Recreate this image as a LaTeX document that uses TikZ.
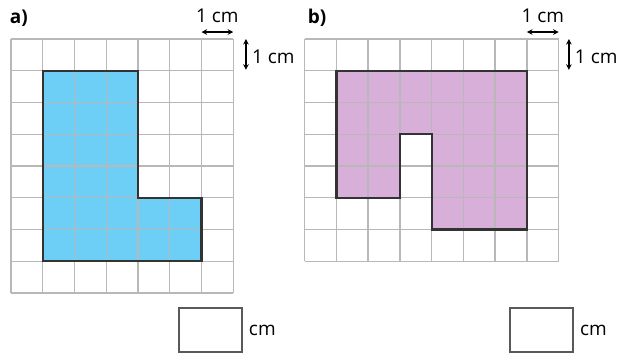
\documentclass[tikz,border=0pt]{standalone}
\usepackage{fontspec}
\setmainfont{Open Sans}
\usetikzlibrary{arrows.meta, positioning}

\definecolor{shapeblue}{HTML}{6DCFF6}
\definecolor{shapepurple}{HTML}{D7AFD8}
\definecolor{gridgray}{HTML}{B8B8B8}

\begin{document}
\begin{tikzpicture}[
    > = {Stealth[length=5pt, width=5pt]},
    gridline/.style={draw=gridgray, line width=1.3pt},
    outline/.style={draw=black!80, line width=2pt, line join=miter},
    unitlabel/.style={font=\fontsize{17}{20}\selectfont, inner sep=1pt},
    partlabel/.style={font=\fontsize{17}{20}\selectfont\bfseries, inner sep=1pt},
    ansbox/.style={draw=black!65, line width=1.3pt, minimum width=1.99cm, minimum height=1.39cm, inner sep=0pt},
    unitarrow/.style={<->, line width=1.1pt}
]
    \useasboundingbox (-0.346,-1.89) rectangle (19.18,9.228);

    % Part a) L-shaped figure on a 7 x 8 grid
    \fill[shapeblue] (1,1) -- (1,7) -- (4,7) -- (4,3) -- (6,3) -- (6,1) -- cycle;
    \draw[gridline] (0,0) grid (7,8);
    \draw[outline] (1,1) -- (1,7) -- (4,7) -- (4,3) -- (6,3) -- (6,1) -- cycle;
    \node[partlabel] (labela) at (0.25,8.66) {a)};

    % Unit marks for a)
    \coordinate (ha1) at (6,8.22);
    \coordinate (ha2) at (7,8.22);
    \draw[unitarrow] (ha1) -- (ha2);
    \node[unitlabel] (hlabela) at (6.5,8.72) {1 cm};
    \coordinate (va1) at (7.40,7.03);
    \coordinate (va2) at (7.40,8);
    \draw[unitarrow] (va1) -- (va2);
    \node[unitlabel, anchor=west] (vlabela) at (7.55,7.45) {1 cm};

    % Answer box for a)
    \node[ansbox] (boxa) at (6.285,-1.165) {};
    \node[unitlabel, right=0.15cm of boxa] (cma) {cm};

    % Part b) U-shaped figure on an 8 x 7 grid
    \begin{scope}[shift={(9.25,1)}]
        \fill[shapepurple] (1,6) -- (7,6) -- (7,1) -- (4,1) -- (4,4) -- (3,4) -- (3,2) -- (1,2) -- cycle;
        \draw[gridline] (0,0) grid (8,7);
        \draw[outline] (1,6) -- (7,6) -- (7,1) -- (4,1) -- (4,4) -- (3,4) -- (3,2) -- (1,2) -- cycle;
        \node[partlabel] (labelb) at (0.39,7.66) {b)};

        % Unit marks for b)
        \coordinate (hb1) at (7,7.22);
        \coordinate (hb2) at (8,7.22);
        \draw[unitarrow] (hb1) -- (hb2);
        \node[unitlabel] (hlabelb) at (7.5,7.72) {1 cm};
        \coordinate (vb1) at (8.32,6.03);
        \coordinate (vb2) at (8.32,7);
        \draw[unitarrow] (vb1) -- (vb2);
        \node[unitlabel, anchor=west] (vlabelb) at (8.47,6.45) {1 cm};
    \end{scope}

    % Answer box for b)
    \node[ansbox] (boxb) at (16.71,-1.165) {};
    \node[unitlabel, right=0.15cm of boxb] (cmb) {cm};
\end{tikzpicture}
\end{document}
